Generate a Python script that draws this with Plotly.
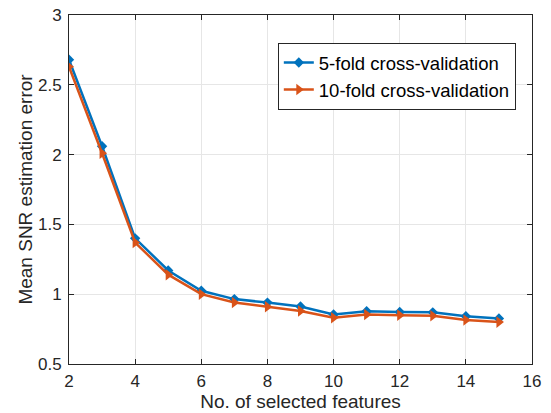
import plotly.graph_objects as go

features = [2, 3, 4, 5, 6, 7, 8, 9, 10, 11, 12, 13, 14, 15]
err_5fold = [2.68, 2.06, 1.40, 1.17, 1.025, 0.965, 0.94, 0.912, 0.855, 0.878, 0.873, 0.87, 0.842, 0.826]
err_10fold = [2.63, 2.01, 1.37, 1.14, 1.0, 0.94, 0.91, 0.88, 0.832, 0.855, 0.85, 0.846, 0.815, 0.80]
x_ticks = [2, 4, 6, 8, 10, 12, 14, 16]
y_ticks = [0.5, 1, 1.5, 2, 2.5, 3]

FONT = "Liberation Sans, Arial, sans-serif"

fig = go.Figure()
fig.add_trace(go.Scatter(
    x=features, y=err_5fold, mode="lines+markers", name="5-fold cross-validation",
    line=dict(color="#0072BD", width=2.5),
    marker=dict(symbol="diamond", size=8, color="#0072BD"),
))
fig.add_trace(go.Scatter(
    x=features, y=err_10fold, mode="lines+markers", name="10-fold cross-validation",
    line=dict(color="#D95319", width=2.5),
    marker=dict(symbol="triangle-right", size=10, color="#D95319"),
))

axis_common = dict(
    showgrid=True, gridcolor="#e6e6e6", gridwidth=1,
    showline=True, linecolor="#262626", linewidth=1, mirror="ticks",
    ticks="inside", ticklen=5, tickcolor="#262626",
    tickfont=dict(family=FONT, size=17, color="#262626"),
    zeroline=False, automargin=False,
)

fig.update_layout(
    width=551, height=413,
    margin=dict(l=69, r=19, t=15, b=49),
    paper_bgcolor="white", plot_bgcolor="white",
    xaxis=dict(range=[2, 16], tickvals=x_ticks, ticklabelstandoff=2,
               title=dict(text="No. of selected features", standoff=0,
                          font=dict(family=FONT, size=19, color="#262626")),
               **axis_common),
    yaxis=dict(range=[0.5, 3], tickvals=y_ticks, ticktext=["0.5", "1", "1.5", "2", "2.5", "3"],
               ticklabelstandoff=3,
               title=dict(text="Mean SNR estimation error", standoff=0,
                          font=dict(family=FONT, size=19, color="#262626")),
               **axis_common),
    legend=dict(x=0.451, y=0.92, xanchor="left", yanchor="top",
                bgcolor="white", bordercolor="#262626", borderwidth=1,
                font=dict(family=FONT, size=18.5, color="#000000"),
                tracegroupgap=0, itemwidth=30),
    showlegend=True,
)

fig.write_html("out.html")
